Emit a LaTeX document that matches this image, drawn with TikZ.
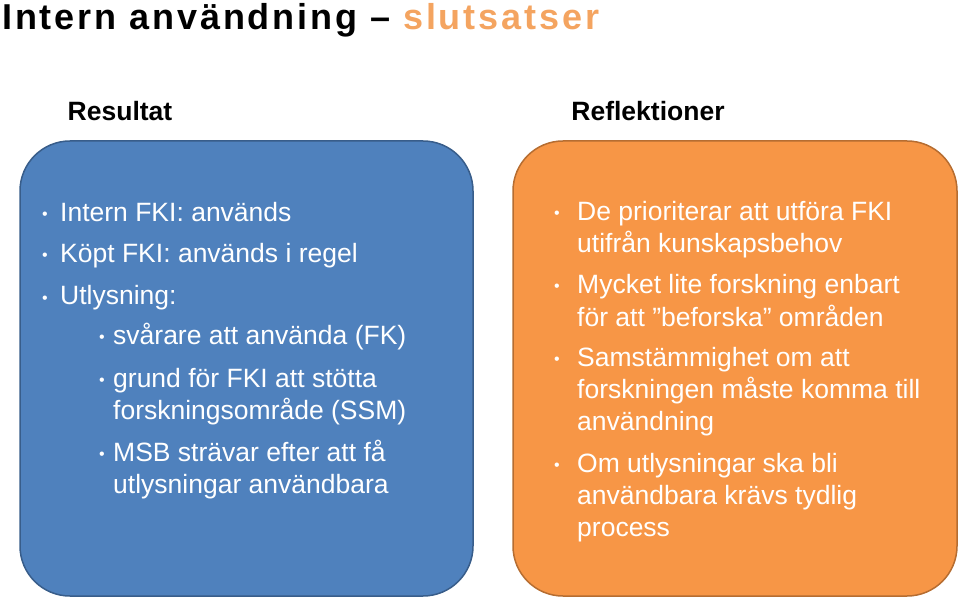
\documentclass[tikz,border=0pt]{standalone}
\usepackage{fontspec}
\setmainfont{Liberation Sans}
\definecolor{boxblue}{HTML}{4F81BD}
\definecolor{blueedge}{HTML}{385D8A}
\definecolor{boxorange}{HTML}{F79646}
\definecolor{orangeedge}{HTML}{B66D31}
\definecolor{titleorange}{HTML}{F4A460}
\tikzset{
  txt/.style={anchor=base west,inner sep=0pt,font=\fontsize{26.5}{30}\selectfont,text=white},
  dot/.style={anchor=base,inner sep=0pt,font=\fontsize{16}{18}\selectfont,text=white},
  head/.style={anchor=base,inner sep=0pt,font=\fontsize{26.5}{30}\selectfont\bfseries},
}
\begin{document}
\begin{tikzpicture}[x=1pt,y=-1pt]
  \useasboundingbox (0,0) rectangle (960,601);
  \node[anchor=base west,inner sep=0pt,font=\fontsize{36}{40}\selectfont\bfseries] (title) at (2,30)
    {\addfontfeature{LetterSpace=8}Intern användning -- \textcolor{titleorange}{slutsatser}};
  \node[head] (res) at (120,121) {Resultat};
  \node[head] (ref) at (648,121) {Reflektioner};
  % boxes
  \draw[fill=boxblue,draw=blueedge,line width=1.5pt,rounded corners=50] (20,141) rectangle (473,596);
  \draw[fill=boxorange,draw=orangeedge,line width=1.5pt,rounded corners=50] (513,141) rectangle (957,596);
  % left
  \foreach \y/\t in {222/Intern FKI: används, 263/Köpt FKI: används i regel, 305/Utlysning:}{
    \node[dot] at (45,\y-2) {•};
    \node[txt] at (60,\y) {\t};}
  \foreach \y in {344,387,461} \node[dot] at (102,\y-2) {•};
  \foreach \y/\t in {344/svårare att använda (FK), 387/grund för FKI att stötta, 419/forskningsområde (SSM),
    461/MSB strävar efter att få, 493/utlysningar användbara}
    \node[txt] at (113,\y) {\t};
  % right
  \foreach \y in {221,294,366,472} \node[dot] at (557,\y-2) {•};
  \foreach \y/\t in {221/De prioriterar att utföra FKI, 253/utifrån kunskapsbehov,
    294/Mycket lite forskning enbart, 326/för att ”beforska” områden,
    366/Samstämmighet om att, 398/forskningen måste komma till, 430/användning,
    472/Om utlysningar ska bli, 504/användbara krävs tydlig, 536/process}
    \node[txt] at (577,\y) {\t};
\end{tikzpicture}
\end{document}
